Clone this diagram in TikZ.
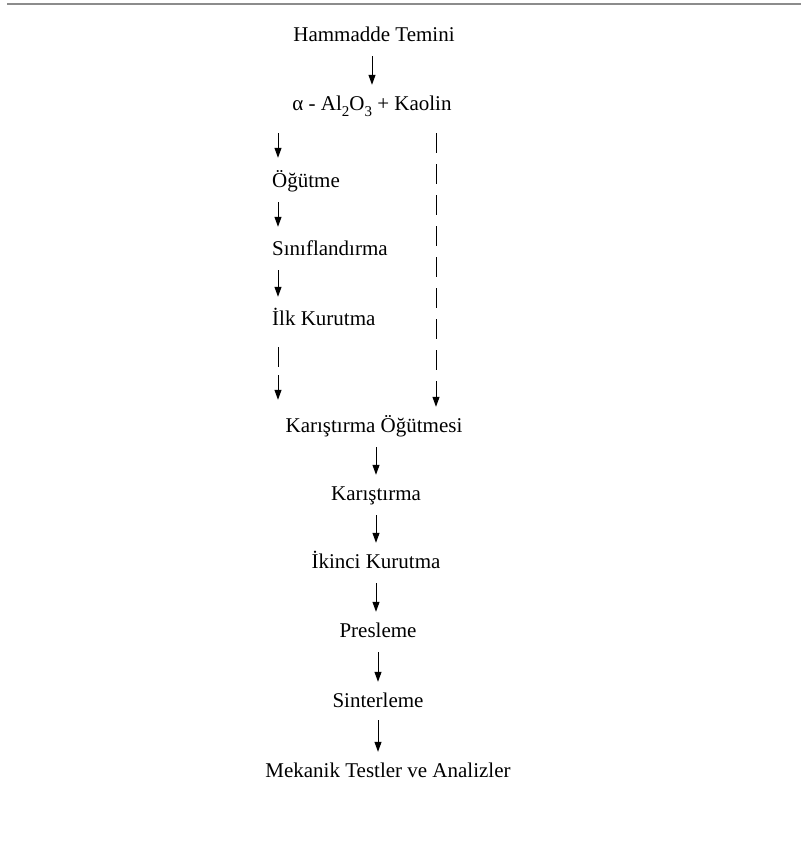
\documentclass[tikz,border=0pt]{standalone}
\usepackage{fontspec}
\setmainfont{Liberation Serif}
\usetikzlibrary{arrows.meta,calc}
\newcommand{\mysub}[1]{\raisebox{-0.3em}{\fontsize{15}{15}\selectfont #1}}
\begin{document}
\begin{tikzpicture}[x=1pt,y=-1pt,
  lbl/.style={font=\fontsize{21}{25}\selectfont, inner xsep=0pt, inner ysep=11pt, text height=14pt, text depth=4pt},
  arr/.style={line width=1pt, -{Triangle[length=10pt,width=7pt]}},
  seg/.style={line width=1pt},
  dsh/.style={line width=1pt, dash pattern=on 20pt off 11pt, -{Triangle[length=10pt,width=7pt]}}]
\useasboundingbox (0,0) rectangle (801,865);
\draw[gray!90, line width=2pt] (7,4) -- (801,4);
% main column
\node[lbl] (ham) at (374,36) {Hammadde Temini};
\node[lbl] (al) at (372,105) {α - Al\mysub{2}O\mysub{3} + Kaolin};
% left column
\node[lbl, anchor=west] (og) at (272,182) {Öğütme};
\node[lbl, anchor=west] (sin) at (272,250) {Sınıflandırma};
\node[lbl, anchor=west] (ilk) at (272,320) {İlk Kurutma};
\coordinate (brk) at (278,371);
\coordinate (dtop) at (436,133);
% lower column
\node[lbl] (ko) at (374,427) {Karıştırma Öğütmesi};
\node[lbl] (kar) at (376,495) {Karıştırma};
\node[lbl] (iki) at (376,563) {İkinci Kurutma};
\node[lbl] (pre) at (378,632) {Presleme};
\node[lbl] (sint) at (378,702) {Sinterleme};
\node[lbl] (mek) at (388,772) {Mekanik Testler ve Analizler};
% connectors
\draw[arr] (ham.south -| al.north) -- (al.north);
\draw[arr, shorten <=8pt, shorten >=4pt] (brk |- al.south) -- (brk |- og.north);
\draw[arr, shorten >=3pt] (brk |- og.south) -- (brk |- sin.north);
\draw[arr, shorten >=3pt] (brk |- sin.south) -- (brk |- ilk.north);
\draw[seg, shorten <=7pt, shorten >=4pt] (brk |- ilk.south) -- (brk);
\draw[arr, shorten <=4pt, shorten >=7pt] (brk) -- (brk |- ko.north);
\draw[dsh] (dtop) -- (dtop |- ko.north);
\draw[arr] (ko.south -| kar.north) -- (kar.north);
\draw[arr] (kar.south) -- (kar.south |- iki.north);
\draw[arr] (iki.south) -- (iki.south |- pre.north);
\draw[arr] (pre.south) -- (pre.south |- sint.north);
\draw[arr, shorten <=-2pt] (sint.south) -- (sint.south |- mek.north);
\end{tikzpicture}
\end{document}
